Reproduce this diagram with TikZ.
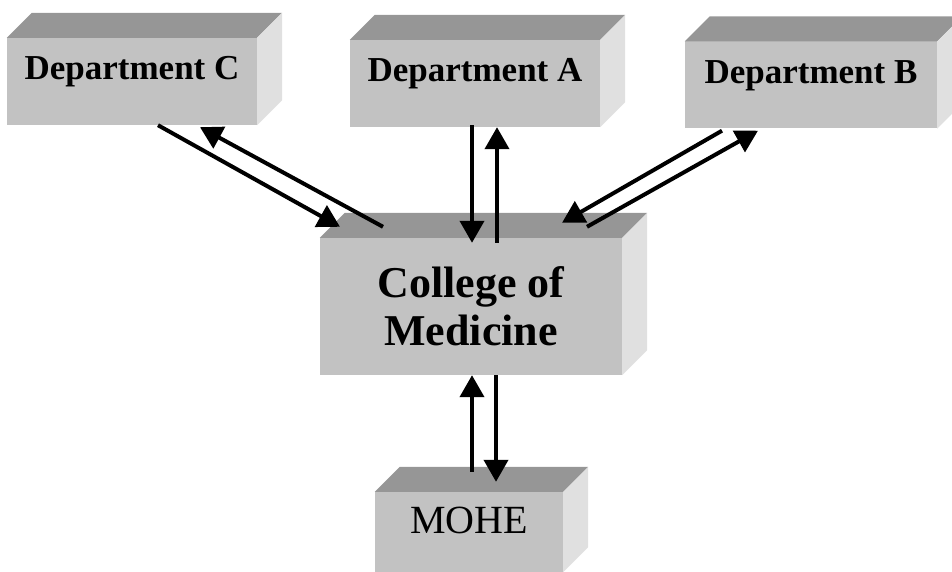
\documentclass[tikz,border=0pt]{standalone}
\usepackage{fontspec}
\setmainfont{Liberation Serif}
\usetikzlibrary{arrows.meta,calc}

\definecolor{frontgray}{RGB}{194,194,194}
\definecolor{topgray}{RGB}{150,150,150}
\definecolor{sidegray}{RGB}{224,224,224}

\begin{document}
\begin{tikzpicture}[x=1pt, y=1pt,
  >={Triangle[length=22pt,width=24pt]},
  face/.style={fill=frontgray, draw=none, inner sep=0pt},
  dept/.style={face, minimum width=250pt, minimum height=87pt,
    font=\fontsize{35}{40}\selectfont\bfseries, text height=24pt, text depth=27pt},
  link/.style={->, line width=4pt}]

\def \depth {25}

\useasboundingbox (0,0) rectangle (952,572);

% front faces
\node[dept] (deptC) at (132,490.5) {Department C};
\node[dept] (deptA) at (475,488.5) {Department A};
\node[dept, minimum width=252pt] (deptB) at (811,487) {Department B};
\node[face, minimum width=302pt, minimum height=137pt, align=center,
  font=\fontsize{44}{48}\selectfont\bfseries] (college) at (471,265.5) {College of\\Medicine};
\node[face, minimum width=188pt, minimum height=80pt, text height=26pt, text depth=22pt,
  font=\fontsize{40}{44}\selectfont] (mohe) at (469,40) {MOHE};

% top and side faces
\foreach \b in {deptC,deptA,deptB,college,mohe}
{
  \fill[topgray] (\b.north west) -- ++(\depth,\depth)
    -- ([shift={(\depth,\depth)}]\b.north east) -- (\b.north east) -- cycle;
  \fill[sidegray] (\b.north east) -- ++(\depth,\depth)
    -- ([shift={(\depth,\depth)}]\b.south east) -- (\b.south east) -- cycle;
}

% links
\draw[link] ([shift={(26,0)}]deptC.south) -- ([shift={(-131,11)}]college.north);
\draw[link] ([shift={(-88,11)}]college.north) -- ([shift={(68,-2)}]deptC.south);

\draw[link] ([shift={(-3,2)}]deptA.south) -- ([shift={(1,-5)}]college.north);
\draw[link] ([shift={(26,-5)}]college.north) -- ([shift={(22,0)}]deptA.south);

\draw[link] ([shift={(-89,-2)}]deptB.south) -- ([shift={(91,15)}]college.north);
\draw[link] ([shift={(116,11)}]college.north) -- ([shift={(-53,-2)}]deptB.south);

\draw[link] ([shift={(3,20)}]mohe.north) -- ([shift={(1,0)}]college.south);
\draw[link] ([shift={(25,0)}]college.south) -- ([shift={(27,10)}]mohe.north);

\end{tikzpicture}
\end{document}
